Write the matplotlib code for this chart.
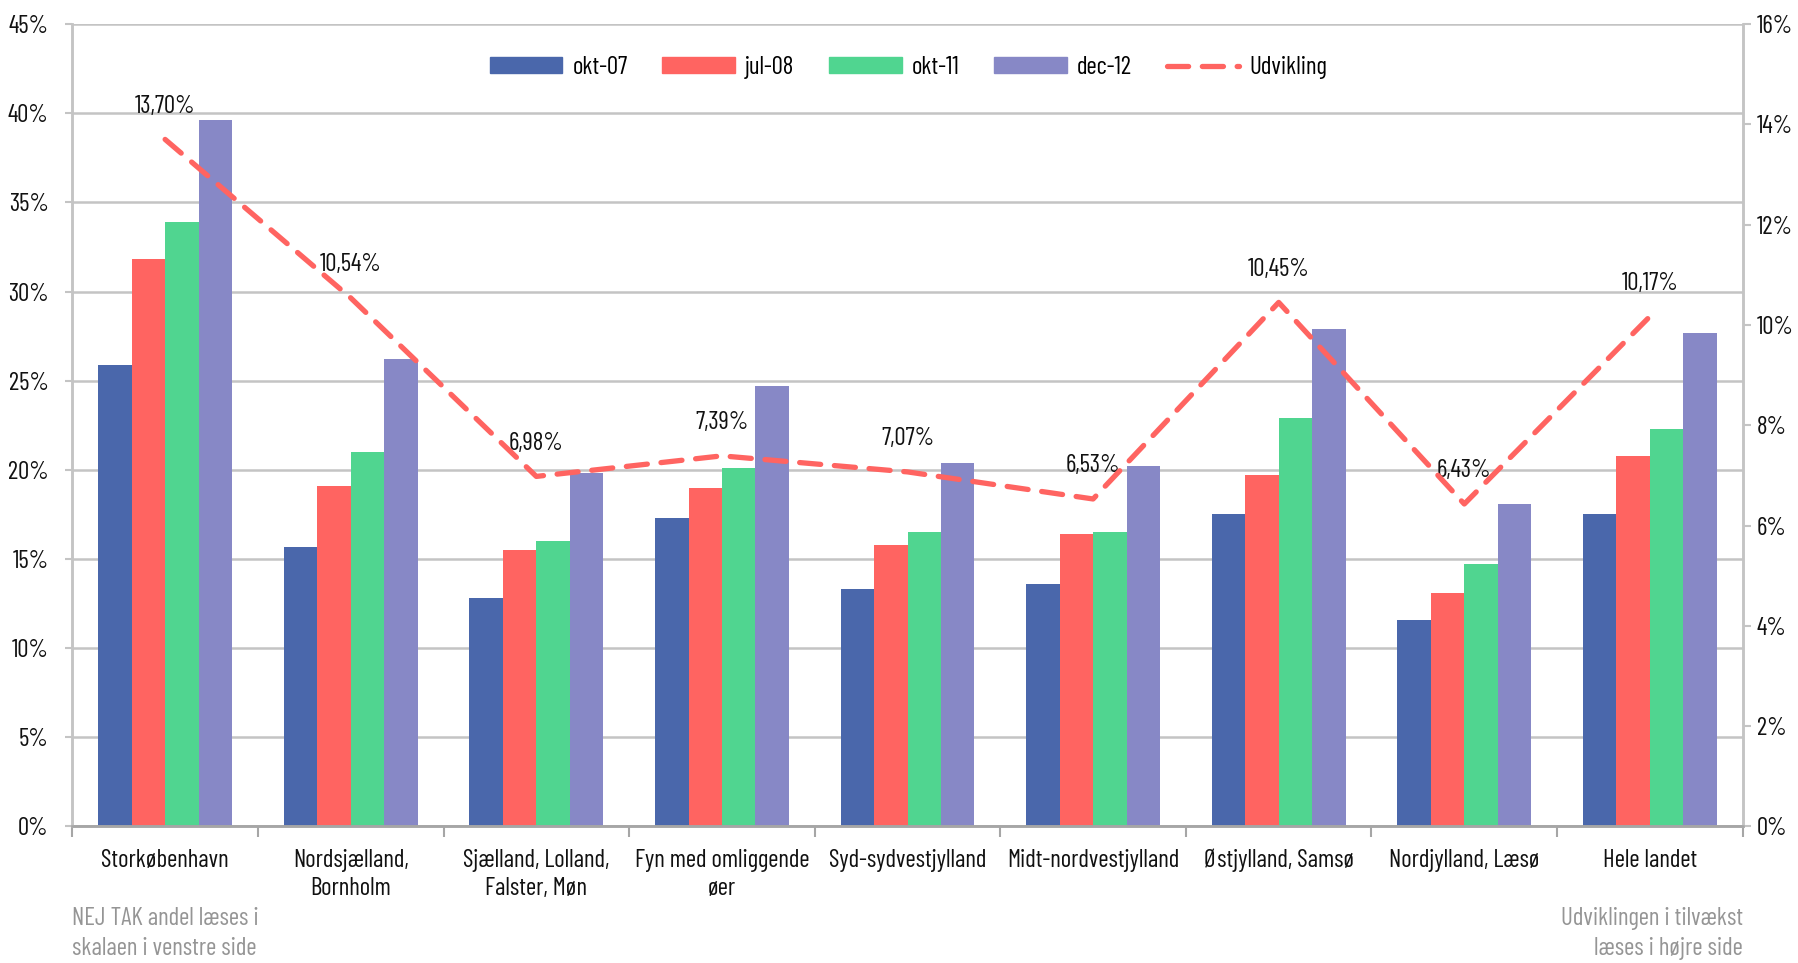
import matplotlib.pyplot as plt
import matplotlib.ticker as mticker
from matplotlib import font_manager as fm
from matplotlib.patches import Patch
from matplotlib.lines import Line2D
import numpy as np

# smal skrift i stil med Agency FB
navne = set(f.name for f in fm.fontManager.ttflist)
skrift = 'DejaVu Sans'
for kandidat in ['Barlow Condensed', 'Archivo Narrow', 'Asap Condensed']:
    if kandidat in navne:
        skrift = kandidat
        break
plt.rcParams['font.family'] = [skrift, 'DejaVu Sans']
plt.rcParams['font.weight'] = 'normal'

# data
regioner = ['Storkøbenhavn', 'Nordsjælland,\nBornholm', 'Sjælland, Lolland,\nFalster, Møn',
            'Fyn med omliggende\nøer', 'Syd-sydvestjylland', 'Midt-nordvestjylland',
            'Østjylland, Samsø', 'Nordjylland, Læsø', 'Hele landet']
okt07 = [25.9, 15.7, 12.8, 17.3, 13.3, 13.6, 17.5, 11.6, 17.5]
jul08 = [31.8, 19.1, 15.5, 19.0, 15.8, 16.4, 19.7, 13.1, 20.8]
okt11 = [33.9, 21.0, 16.0, 20.1, 16.5, 16.5, 22.9, 14.7, 22.3]
dec12 = [39.6, 26.2, 19.8, 24.7, 20.4, 20.2, 27.9, 18.1, 27.7]
udvikling = [13.70, 10.54, 6.98, 7.39, 7.07, 6.53, 10.45, 6.43, 10.17]
serier = ['okt-07', 'jul-08', 'okt-11', 'dec-12']
farver = ['#4A67AB', '#FF6461', '#50D590', '#8788C6']
linjefarve = '#FF6461'
grid = '#C4C4C4'
tekst = '#111111'
fs = 18

fig = plt.figure(figsize=(17.99, 9.63), dpi=100)
ax = fig.add_axes([0.0402, 0.1418, 0.9285, 0.8332])
ax2 = ax.twinx()

x = np.arange(len(regioner))
w = 0.18
for i, (vals, c) in enumerate(zip([okt07, jul08, okt11, dec12], farver)):
    ax.bar(x + (i - 1.5) * w, vals, w, color=c, zorder=2)

ax.set_xlim(-0.5, len(regioner) - 0.5)
ax.set_ylim(0, 45)
ax.yaxis.set_major_locator(mticker.MultipleLocator(5))
ax.yaxis.set_major_formatter(mticker.FuncFormatter(lambda v, p: f'{v:.0f}%'))
ax.grid(axis='y', color=grid, linewidth=1.8, zorder=0)
ax.set_axisbelow(True)
ax.set_xticks(x)
ax.set_xticklabels(regioner, fontsize=fs, color=tekst, linespacing=1.3)
ax.set_xticks(np.arange(-0.5, len(regioner)), minor=True)
ax.tick_params(axis='x', which='major', length=0, pad=16)
ax.tick_params(axis='x', which='minor', length=8, color='#A6A6A6', width=1.5)
ax.tick_params(axis='y', length=5, color=grid, width=1.5, labelsize=fs, labelcolor=tekst, pad=12)

ax2.plot(x, udvikling, color=linjefarve, lw=3.8, dashes=(4, 2.6), dash_capstyle='round', zorder=5)
ax2.set_ylim(0, 16)
ax2.yaxis.set_major_locator(mticker.MultipleLocator(2))
ax2.yaxis.set_major_formatter(mticker.FuncFormatter(lambda v, p: f'{v:.0f}%'))
ax2.tick_params(axis='y', length=6, color=grid, width=1.5, labelsize=fs, labelcolor=tekst, pad=4)
for xi, v in zip(x, udvikling):
    ax2.annotate(f'{v:.2f}%'.replace('.', ','), (xi, v), xytext=(0, 24), textcoords='offset points',
                 ha='center', va='center', fontsize=fs, color=tekst)

for a in (ax, ax2):
    a.spines['top'].set_visible(False)
    a.spines['left'].set_color(grid)
    a.spines['right'].set_color(grid)
    a.spines['bottom'].set_color('#A6A6A6')
    for s in ('left', 'right', 'bottom'):
        a.spines[s].set_linewidth(1.8)

handles = [Patch(color=c) for c in farver] + [Line2D([], [], color=linjefarve, lw=3.8, dashes=(4, 2.6), dash_capstyle='round')]
fig.legend(handles, serier + ['Udvikling'], loc='center', bbox_to_anchor=(0.505, 0.93), ncol=5,
           frameon=False, fontsize=fs, handlelength=2.9, handleheight=0.6, columnspacing=1.4, handletextpad=0.4)

fig.text(0.0402, 0.003, 'NEJ TAK andel læses i\nskalaen i venstre side', ha='left', va='bottom',
         fontsize=fs, color='#959595', linespacing=1.4)
fig.text(0.9687, 0.003, 'Udviklingen i tilvækst\nlæses i højre side', ha='right', va='bottom',
         fontsize=fs, color='#959595', linespacing=1.4)

fig.savefig('out.png', dpi=100)
